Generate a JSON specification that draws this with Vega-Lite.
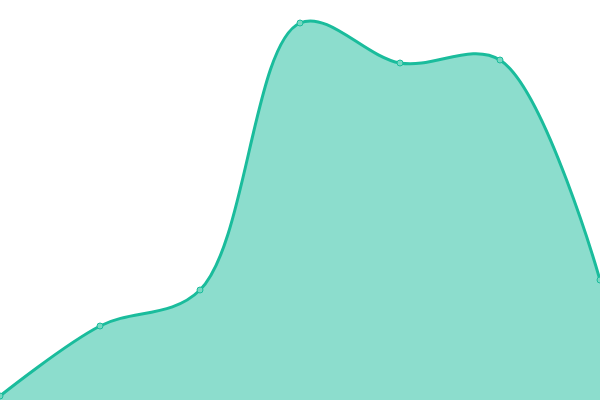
{
  "$schema": "https://vega.github.io/schema/vega-lite/v6.json",
  "autosize": {"type": "none"},
  "width": 600,
  "height": 400,
  "padding": 0,
  "background": "white",
  "config": {"view": {"stroke": null}},
  "data": {"values": [
    {"i": 0, "v": 4},
    {"i": 1, "v": 74},
    {"i": 2, "v": 110},
    {"i": 3, "v": 377},
    {"i": 4, "v": 337},
    {"i": 5, "v": 340},
    {"i": 6, "v": 120}
  ]},
  "encoding": {
    "x": {"field": "i", "type": "quantitative", "axis": null, "scale": {"domain": [0, 6], "nice": false}},
    "y": {"field": "v", "type": "quantitative", "axis": null, "scale": {"domain": [0, 400], "nice": false}}
  },
  "layer": [
    {"mark": {"type": "area", "interpolate": "catmull-rom", "color": "#1abc9c", "opacity": 0.5}},
    {"mark": {"type": "line", "interpolate": "catmull-rom", "color": "#1abc9c", "strokeWidth": 3}},
    {"mark": {"type": "point", "shape": "circle", "filled": true, "fill": "#76d8c2", "stroke": "#1abc9c", "strokeWidth": 1, "size": 36, "opacity": 1}}
  ]
}
